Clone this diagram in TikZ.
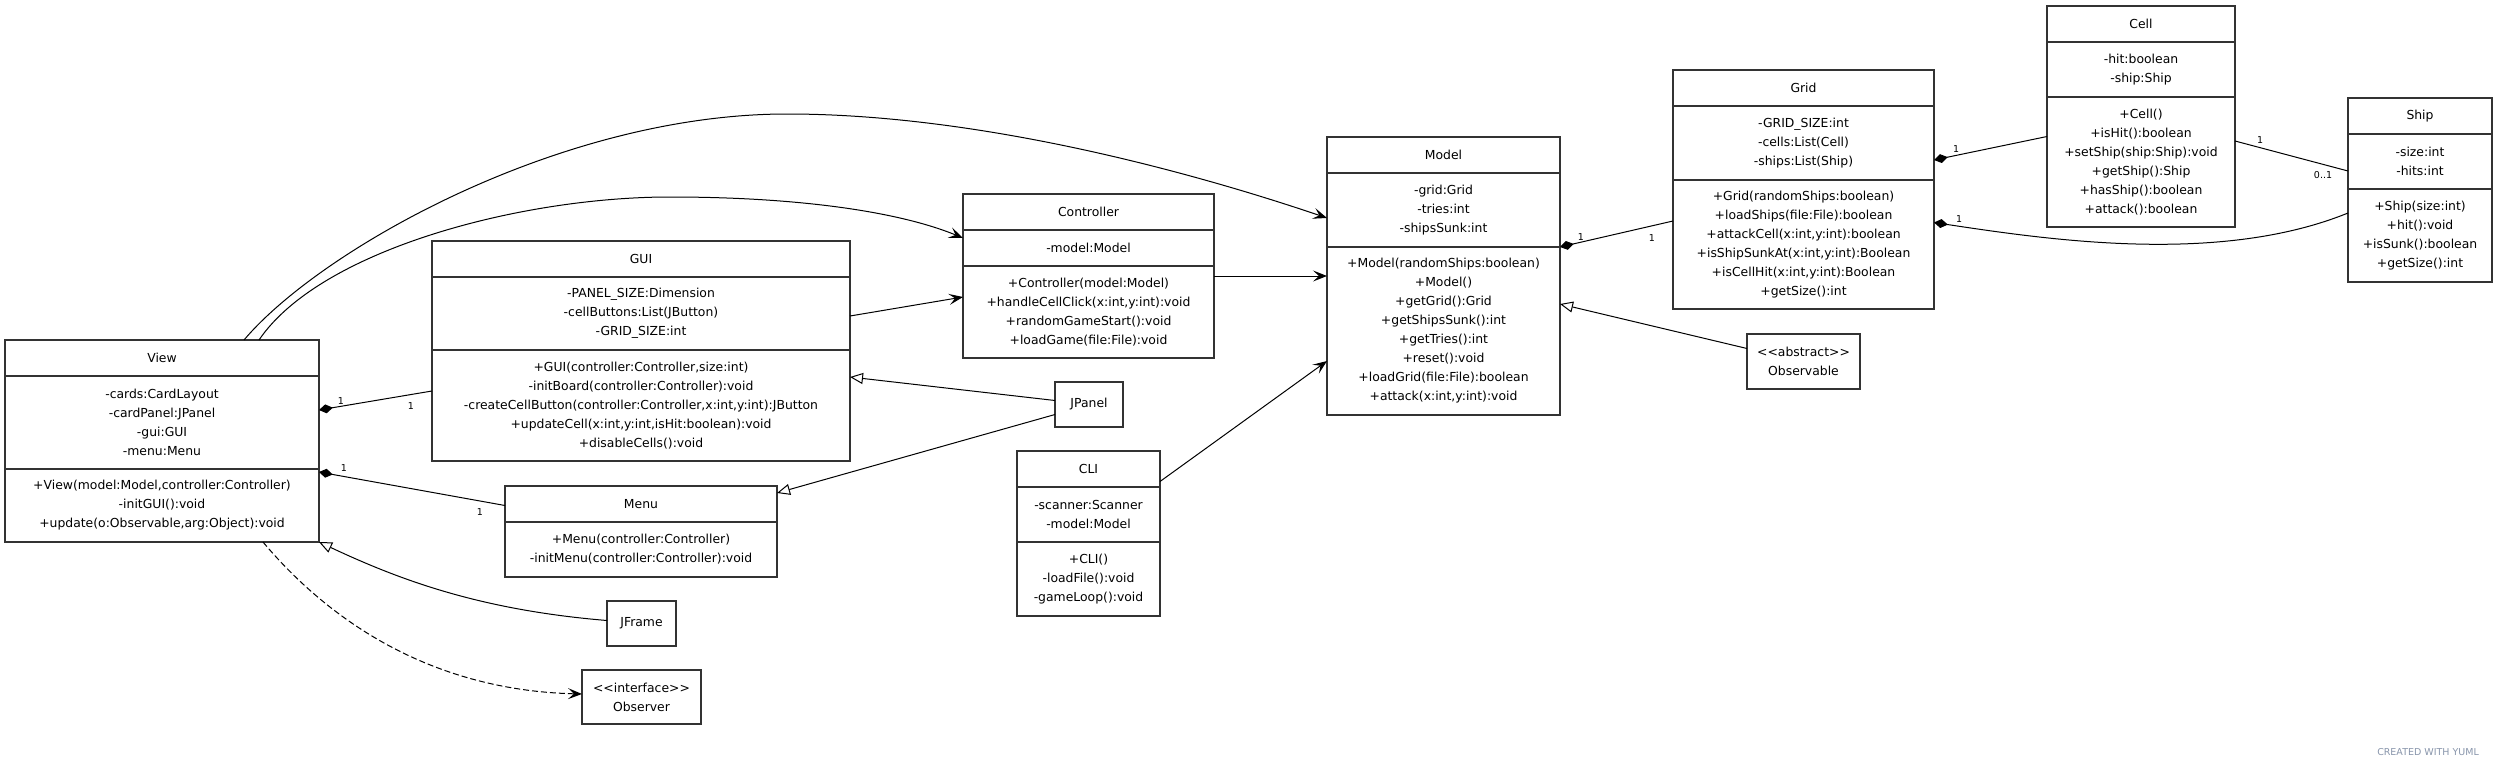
\documentclass[tikz,border=0pt]{standalone}
\usepackage{fontspec}
\setmainfont{DejaVu Sans}
\usetikzlibrary{arrows.meta}
\definecolor{yumlgray}{RGB}{135,148,170}

\begin{document}
\begin{tikzpicture}[x=1pt,y=-1pt,
    box/.style={draw=black!80,line width=1.3pt,outer sep=0pt,inner sep=0pt,anchor=north west},
    sep/.style={draw=black!80,line width=1.3pt},
    txt/.style={align=center,inner sep=0pt,font=\fontsize{12.4}{19}\selectfont},
    mult/.style={inner sep=0pt,font=\fontsize{9.5}{11}\selectfont},
    conn/.style={line width=1pt},
    comp/.style={conn,{Diamond[length=14pt,width=9pt]}-},
    gen/.style={conn,-{Triangle[open,length=13pt,width=11pt]}},
    dep/.style={conn,-{Stealth[length=14pt,width=11pt,inset=6pt]}}]
        \useasboundingbox (0,0) rectangle (2498,768);

        \node[box,minimum width=314,minimum height=202] (view) at (5,340) {};
        \draw[sep] (view.west |- 0,376) -- (view.east |- 0,376);
        \draw[sep] (view.west |- 0,469) -- (view.east |- 0,469);
        \node[txt] (viewname) at (view.north |- 0,358) {View};
        \node[txt] (viewattr) at (view.north |- 0,422.5) {-cards:CardLayout\\-cardPanel:JPanel\\-gui:GUI\\-menu:Menu};
        \node[txt] (viewops) at (view.north |- 0,505.5) {+View(model:Model,controller:Controller)\\-initGUI():void\\+update(o:Observable,arg:Object):void};

        \node[box,minimum width=418,minimum height=220] (gui) at (432,241) {};
        \draw[sep] (gui.west |- 0,277) -- (gui.east |- 0,277);
        \draw[sep] (gui.west |- 0,350) -- (gui.east |- 0,350);
        \node[txt] (guiname) at (gui.north |- 0,259) {GUI};
        \node[txt] (guiattr) at (gui.north |- 0,313.5) {-PANEL\_SIZE:Dimension\\-cellButtons:List(JButton)\\-GRID\_SIZE:int};
        \node[txt] (guiops) at (gui.north |- 0,405.5) {+GUI(controller:Controller,size:int)\\-initBoard(controller:Controller):void\\-createCellButton(controller:Controller,x:int,y:int):JButton\\+updateCell(x:int,y:int,isHit:boolean):void\\+disableCells():void};

        \node[box,minimum width=272,minimum height=91] (menu) at (505,486) {};
        \draw[sep] (menu.west |- 0,522) -- (menu.east |- 0,522);
        \node[txt] (menuname) at (menu.north |- 0,504) {Menu};
        \node[txt] (menuops) at (menu.north |- 0,549.5) {+Menu(controller:Controller)\\-initMenu(controller:Controller):void};

        \node[box,minimum width=251,minimum height=164] (ctrl) at (963,194) {};
        \draw[sep] (ctrl.west |- 0,230) -- (ctrl.east |- 0,230);
        \draw[sep] (ctrl.west |- 0,266) -- (ctrl.east |- 0,266);
        \node[txt] (ctrlname) at (ctrl.north |- 0,212) {Controller};
        \node[txt] (ctrlattr) at (ctrl.north |- 0,248) {-model:Model};
        \node[txt] (ctrlops) at (ctrl.north |- 0,312) {+Controller(model:Model)\\+handleCellClick(x:int,y:int):void\\+randomGameStart():void\\+loadGame(file:File):void};

        \node[box,minimum width=68,minimum height=45] (jpanel) at (1055,382) {};
        \node[txt] (jpanelname) at (jpanel.center) {JPanel};

        \node[box,minimum width=143,minimum height=165] (cli) at (1017,451) {};
        \draw[sep] (cli.west |- 0,487) -- (cli.east |- 0,487);
        \draw[sep] (cli.west |- 0,542) -- (cli.east |- 0,542);
        \node[txt] (cliname) at (cli.north |- 0,469) {CLI};
        \node[txt] (cliattr) at (cli.north |- 0,514.5) {-scanner:Scanner\\-model:Model};
        \node[txt] (cliops) at (cli.north |- 0,579) {+CLI()\\-loadFile():void\\-gameLoop():void};

        \node[box,minimum width=233,minimum height=278] (model) at (1327,137) {};
        \draw[sep] (model.west |- 0,173) -- (model.east |- 0,173);
        \draw[sep] (model.west |- 0,247) -- (model.east |- 0,247);
        \node[txt] (modelname) at (model.north |- 0,155) {Model};
        \node[txt] (modelattr) at (model.north |- 0,210) {-grid:Grid\\-tries:int\\-shipsSunk:int};
        \node[txt] (modelops) at (model.north |- 0,331) {+Model(randomShips:boolean)\\+Model()\\+getGrid():Grid\\+getShipsSunk():int\\+getTries():int\\+reset():void\\+loadGrid(file:File):boolean\\+attack(x:int,y:int):void};

        \node[box,minimum width=261,minimum height=239] (grid) at (1673,70) {};
        \draw[sep] (grid.west |- 0,106) -- (grid.east |- 0,106);
        \draw[sep] (grid.west |- 0,180) -- (grid.east |- 0,180);
        \node[txt] (gridname) at (grid.north |- 0,88) {Grid};
        \node[txt] (gridattr) at (grid.north |- 0,143) {-GRID\_SIZE:int\\-cells:List(Cell)\\-ships:List(Ship)};
        \node[txt] (gridops) at (grid.north |- 0,244.5) {+Grid(randomShips:boolean)\\+loadShips(file:File):boolean\\+attackCell(x:int,y:int):boolean\\+isShipSunkAt(x:int,y:int):Boolean\\+isCellHit(x:int,y:int):Boolean\\+getSize():int};

        \node[box,minimum width=113,minimum height=55] (observable) at (1747,334) {};
        \node[txt] (observablename) at (observable.center) {<{}<abstract>{}>\\Observable};

        \node[box,minimum width=188,minimum height=221] (cell) at (2047,6) {};
        \draw[sep] (cell.west |- 0,42) -- (cell.east |- 0,42);
        \draw[sep] (cell.west |- 0,97) -- (cell.east |- 0,97);
        \node[txt] (cellname) at (cell.north |- 0,24) {Cell};
        \node[txt] (cellattr) at (cell.north |- 0,69.5) {-hit:boolean\\-ship:Ship};
        \node[txt] (cellops) at (cell.north |- 0,162) {+Cell()\\+isHit():boolean\\+setShip(ship:Ship):void\\+getShip():Ship\\+hasShip():boolean\\+attack():boolean};

        \node[box,minimum width=144,minimum height=184] (ship) at (2348,98) {};
        \draw[sep] (ship.west |- 0,134) -- (ship.east |- 0,134);
        \draw[sep] (ship.west |- 0,189) -- (ship.east |- 0,189);
        \node[txt] (shipname) at (ship.north |- 0,116) {Ship};
        \node[txt] (shipattr) at (ship.north |- 0,161.5) {-size:int\\-hits:int};
        \node[txt] (shipops) at (ship.north |- 0,235.5) {+Ship(size:int)\\+hit():void\\+isSunk():boolean\\+getSize():int};

        \node[box,minimum width=69,minimum height=45] (jframe) at (607,601) {};
        \node[txt] (jframename) at (jframe.center) {JFrame};

        \node[box,minimum width=119,minimum height=54] (observer) at (582,670) {};
        \node[txt] (observername) at (observer.center) {<{}<interface>{}>\\Observer};

        \draw[comp] ([yshift=31]view.east) -- ([yshift=-40]gui.west);
        \draw[comp] ([yshift=-31]view.east) -- ([yshift=26]menu.west);
        \draw[dep] ([xshift=82]view.north) .. controls (320,250) and (560,114) .. (787,114) .. controls (1000,114) and (1230,185) .. ([yshift=58]model.west);
        \draw[dep] ([xshift=97]view.north) .. controls (320,250) and (520,197) .. (670,197) .. controls (800,197) and (900,212) .. ([yshift=38]ctrl.west);
        \draw[dep] ([yshift=35]gui.east) -- ([yshift=-21]ctrl.west);
        \draw[dep] (ctrl.east) -- (model.west);
        \draw[gen] ([yshift=4]jpanel.west) -- ([yshift=-26]gui.east);
        \draw[gen] ([yshift=-10]jpanel.west) -- ([yshift=38.5]menu.east);
        \draw[dep] ([yshift=52]cli.east) -- ([yshift=-85]model.west);
        \draw[comp] ([yshift=29]model.east) -- ([yshift=-31.5]grid.west);
        \draw[gen] ([yshift=13]observable.west) -- ([yshift=-28]model.east);
        \draw[comp] ([yshift=29.5]grid.east) -- ([yshift=-20]cell.west);
        \draw[comp] ([yshift=-33]grid.east) .. controls (2050,240) and (2220,265) .. ([yshift=-23]ship.west);
        \draw[conn] ([yshift=-24.5]cell.east) -- ([yshift=19]ship.west);
        \draw[gen] ([yshift=3]jframe.west) .. controls (480,610) and (400,580) .. (view.south east);
        \draw[dep,dash pattern=on 6pt off 3pt] ([xshift=101]view.south) .. controls (320,610) and (420,690) .. ([yshift=3]observer.west);

        \node[mult] (viewguia) at (341,401) {1};
        \node[mult] (viewguib) at (411,406) {1};
        \node[mult] (viewmenua) at (344,468) {1};
        \node[mult] (viewmenub) at (480,512) {1};
        \node[mult] (modelgrida) at (1581,237) {1};
        \node[mult] (modelgridb) at (1652,238) {1};
        \node[mult] (gridcella) at (1956,149) {1};
        \node[mult] (gridshipa) at (1959,219) {1};
        \node[mult] (cellshipa) at (2260,140) {1};
        \node[mult] (cellshipb) at (2323,175) {0..1};

        \node[font=\fontsize{9.5}{11}\selectfont,text=yumlgray] (credit) at (2428,752) {CREATED WITH YUML};
    \end{tikzpicture}
\end{document}
